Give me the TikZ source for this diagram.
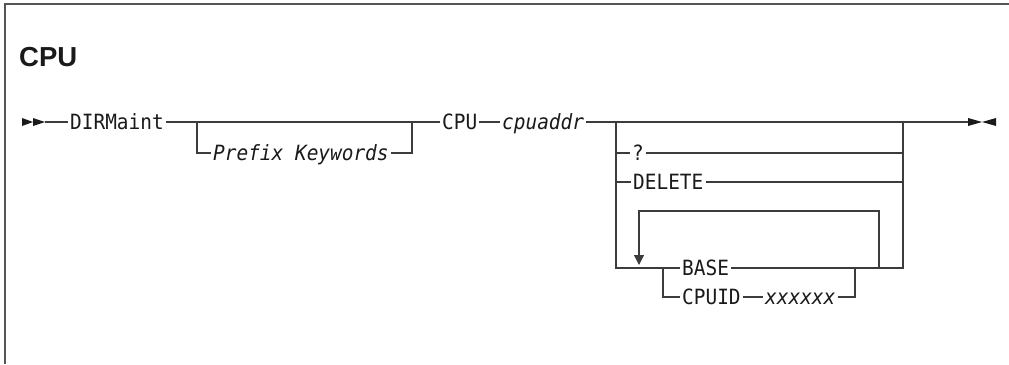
\documentclass[tikz,border=0pt]{standalone}
\usepackage{fontspec}
\usetikzlibrary{arrows.meta, positioning, calc}
\newfontfamily\railfont[FakeStretch=0.925]{DejaVu Sans Mono}
\newfontfamily\headfont{Liberation Sans}
\definecolor{railgray}{HTML}{3C3C3C}
\definecolor{framegray}{HTML}{555555}
\definecolor{inkblack}{HTML}{1A1A1A}
\tikzset{
  rail/.style={draw=railgray, line width=1.3},
  kwtext/.style={anchor=west, inner xsep=2, inner ysep=0, text height=15.3pt,
                 text depth=0pt, text=inkblack,
                 font=\railfont\fontsize{21}{24}\selectfont},
  vartext/.style={kwtext, font=\railfont\itshape\fontsize{21}{24}\selectfont},
  marker/.style={fill=inkblack},
}

\begin{document}
\begin{tikzpicture}[x=1pt, y=-1pt]
  \useasboundingbox (0,0) rectangle (1009,364);
  \draw[draw=framegray, line width=1.6] (5,364) -- (5,4) -- (1009,4);
  \node[anchor=west, inner sep=0, text=inkblack,
        font=\headfont\bfseries\fontsize{27.5}{30}\selectfont]
    (ttl) at (19,57) {CPU};

  \node[kwtext]  (dirm)  at (68,122)  {DIRMaint};
  \node[vartext] (pfx)   at (211,153) {Prefix Keywords};
  \node[kwtext]  (cpu)   at (440,122) {CPU};
  \node[vartext] (addr)  at (500,122) {cpuaddr};
  \node[kwtext]  (qm)    at (630,153) {?};
  \node[kwtext]  (del)   at (631,182) {DELETE};
  \node[kwtext]  (base)  at (680,268) {BASE};
  \node[kwtext]  (cpuid) at (680,297) {CPUID};
  \node[vartext] (xx)    at (763,297) {xxxxxx};

  \coordinate (st) at (45,122);
  \coordinate (en) at (968,122);
  \coordinate (j1) at (197,122);
  \coordinate (j2) at (412,122);
  \coordinate (c1) at (616,122);
  \coordinate (c2) at (903,122);
  \coordinate (i1) at (663,268);
  \coordinate (i2) at (855,268);
  \coordinate (rp) at (879,268);
  \coordinate (lp) at (639,211);
  \coordinate (la) at (639,265);

  \fill[marker] (22,118) -- (33,122) -- (22,126) -- cycle;
  \fill[marker] (33,118) -- (st) -- (33,126) -- cycle;
  \fill[marker] (en) ++(0,-4) -- ++(14,4) -- ++(-14,4) -- cycle;
  \fill[marker] (996,118) -- (982,122) -- (996,126) -- cycle;

  \draw[rail] (st) -- (dirm.west);
  \draw[rail] (dirm.east) -- (cpu.west);
  \draw[rail] (j1) |- (pfx.west);
  \draw[rail] (pfx.east) -| (j2);
  \draw[rail] (cpu.east) -- (addr.west);
  \draw[rail] (addr.east) -- (en);
  \draw[rail, line width=2.6] (908,122) -- (933,122);

  \draw[rail] (c1) |- (qm.west);
  \draw[rail] (c1) |- (del.west);
  \draw[rail] (c1) |- (base.west);
  \draw[rail] (qm.east) -| (c2);
  \draw[rail] (del.east) -- (del.east -| c2);
  \draw[rail] (base.east) -| (c2);
  \draw[rail] (i1) |- (cpuid.west);
  \draw[rail] (cpuid.east) -- (xx.west);
  \draw[rail] (xx.east) -| (i2);
  \draw[rail, -{Triangle[width=10pt, length=10pt]}] (rp) |- (lp) -- (la);
\end{tikzpicture}
\end{document}
